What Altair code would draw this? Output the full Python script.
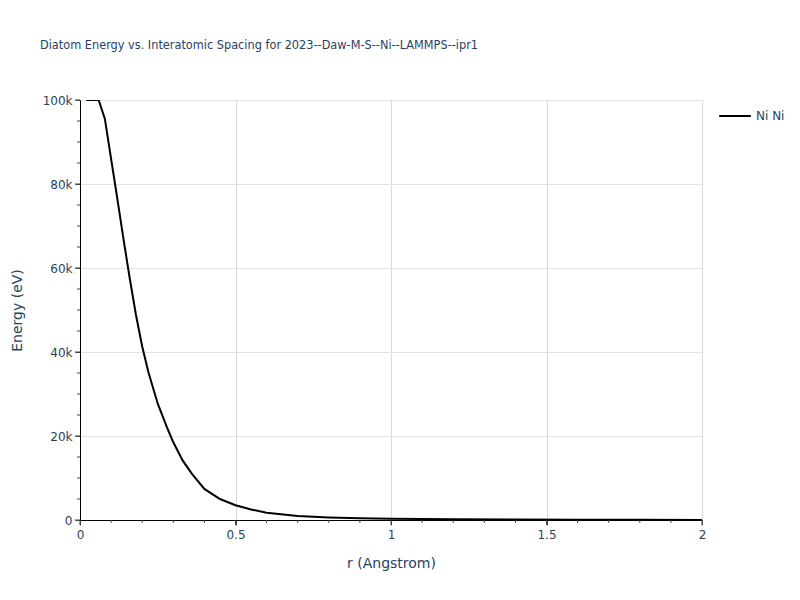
import altair as alt
import pandas as pd

r_vals = [0.02, 0.06, 0.08, 0.10, 0.12, 0.14, 0.16, 0.18, 0.20, 0.22, 0.25, 0.28,
          0.30, 0.33, 0.36, 0.40, 0.45, 0.50, 0.55, 0.60, 0.70, 0.80, 0.90, 1.00,
          1.20, 1.40, 1.60, 1.80, 2.00]
energy_vals = [100000, 100000, 95500, 86000, 76500, 66800, 57500, 48800, 41300, 35200,
               27700, 22000, 18500, 14200, 11000, 7400, 5000, 3500, 2500, 1750, 950,
               600, 400, 300, 180, 100, 60, 30, 20]
pair_name = ["Ni Ni"]
x_major_ticks = [0, 0.5, 1, 1.5, 2]
x_minor_ticks = [0.1, 0.2, 0.3, 0.4, 0.6, 0.7, 0.8, 0.9, 1.1, 1.2, 1.3, 1.4, 1.6, 1.7, 1.8, 1.9]
y_major_ticks = [0, 20000, 40000, 60000, 80000, 100000]
y_minor_ticks = [v for v in range(5000, 100000, 5000) if v % 20000 != 0]

df = pd.DataFrame({"r": r_vals, "E": energy_vals, "pair": pair_name * len(r_vals)})

TXT = "#2a3f5f"
FONT = "DejaVu Sans"
TICK = "#444444"
H = 420

x_scale = alt.Scale(domain=[0, 2], nice=False, zero=False)
y_scale = alt.Scale(domain=[0, 100000], nice=False)

x_axis = alt.Axis(
    title="r (Angstrom)",
    values=x_major_ticks,
    format="~g",
    ticks=True,
    tickSize=5,
    tickColor=TICK,
    gridColor="#d9d9d9",
    domainColor="#000000",
    labelColor=TXT,
    labelFont=FONT,
    labelFontSize=12,
    labelPadding=4,
    titleColor=TXT,
    titleFont=FONT,
    titleFontSize=14,
    titleFontWeight="normal",
    titlePadding=16,
    labelFlush=False,
    orient="bottom",
)

y_axis = alt.Axis(
    title="Energy (eV)",
    values=y_major_ticks,
    labelExpr="datum.value === 0 ? '0' : format(datum.value / 1000, 'd') + 'k'",
    gridOpacity={"condition": {"test": "datum.value > 0", "value": 1}, "value": 0},
    ticks=True,
    tickSize=5,
    tickColor=TICK,
    gridColor="#e3e3e3",
    domainColor="#000000",
    labelColor=TXT,
    labelFont=FONT,
    labelFontSize=12,
    labelPadding=3,
    titleColor=TXT,
    titleFont=FONT,
    titleFontSize=14,
    titleFontWeight="normal",
    titlePadding=18,
    labelFlush=False,
    orient="left",
)

main = alt.Chart(df).mark_line(color="black", strokeWidth=2, clip=True).encode(
    x=alt.X("r:Q", scale=x_scale, axis=x_axis),
    y=alt.Y("E:Q", scale=y_scale, axis=y_axis),
    color=alt.Color(
        "pair:N",
        scale=alt.Scale(domain=pair_name, range=["#000000"]),
        legend=alt.Legend(
            title=None,
            orient="none",
            legendX=638,
            legendY=-1,
            symbolType="stroke",
            symbolSize=1000,
            symbolStrokeWidth=2,
            labelFont=FONT,
            labelFontSize=12,
            labelColor=TXT,
        ),
    ),
)


def x_ticks(vals, length):
    return alt.Chart(pd.DataFrame({"r": vals})).mark_rule(color=TICK, strokeWidth=1).encode(
        x=alt.X("r:Q", scale=x_scale),
        y=alt.value(H),
        y2=alt.value(H + length),
    )


def y_ticks(vals, length):
    return alt.Chart(pd.DataFrame({"E": vals})).mark_rule(color=TICK, strokeWidth=1).encode(
        y=alt.Y("E:Q", scale=y_scale),
        x=alt.value(-length),
        x2=alt.value(0),
    )


chart = alt.layer(
    main,
    x_ticks(x_major_ticks, 5),
    x_ticks(x_minor_ticks, 3),
    y_ticks(y_major_ticks, 5),
    y_ticks(y_minor_ticks, 3),
).properties(
    width=622,
    height=H,
    title=alt.TitleParams(
        "Diatom Energy vs. Interatomic Spacing for 2023--Daw-M-S--Ni--LAMMPS--ipr1",
        anchor="start",
        frame="group",
        dx=-40,
        offset=42,
        font="DejaVu Sans Condensed",
        fontSize=12.6,
        fontWeight="normal",
        color=TXT,
    ),
    autosize=alt.AutoSizeParams(type="none"),
    padding={"left": 72, "top": 92, "right": 90, "bottom": 72},
).configure_view(stroke=None)

chart.save("out.html", embed_options={"renderer": "svg", "actions": False})
